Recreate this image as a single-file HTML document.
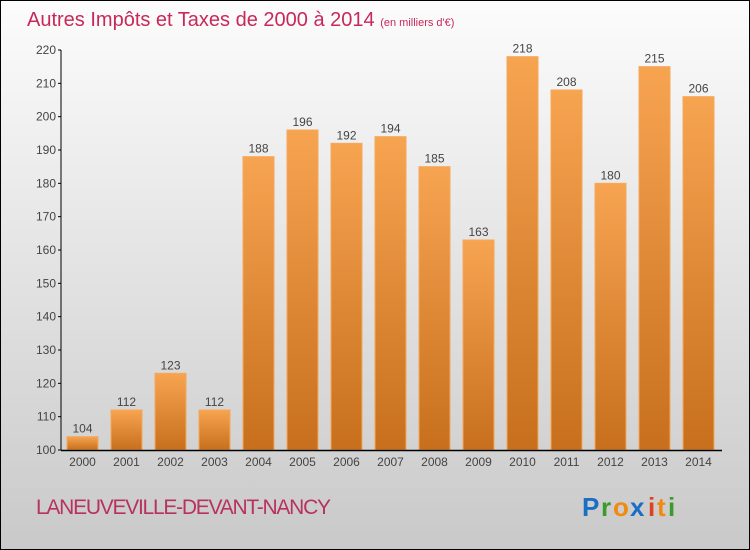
<!DOCTYPE html>
<html><head><meta charset="utf-8"><style>
body{margin:0;width:750px;height:550px;overflow:hidden}
svg{display:block}
text{font-family:"Liberation Sans",sans-serif}
</style></head><body>
<svg width="750" height="550">
<defs>
<linearGradient id="bg" x1="0" y1="0" x2="0" y2="1"><stop offset="0" stop-color="#fcfcfc"/><stop offset="1" stop-color="#c9c9c9"/></linearGradient>
<linearGradient id="bar" x1="0" y1="0" x2="0" y2="1"><stop offset="0" stop-color="#f7a451"/><stop offset="1" stop-color="#c76f1d"/></linearGradient>
</defs>
<rect x="0.5" y="0.5" width="749" height="549" fill="url(#bg)" stroke="#000"/>
<text x="27" y="26" font-size="20" fill="#c8285a">Autres Impôts et Taxes de 2000 à 2014 <tspan font-size="11">(en milliers d'€)</tspan></text>
<g id="yaxis"></g><g id="bars"></g><g id="xaxis"></g>
<text x="36" y="514" font-size="21" fill="#b8325e" textLength="295">LANEUVEVILLE-DEVANT-NANCY</text>
<g font-size="26" font-weight="bold">
<text x="582" y="516" fill="#1a6fc4">P</text><text x="601" y="516" fill="#3a9a2a">r</text><text x="613" y="516" fill="#f08a10">o</text><text x="630" y="516" fill="#1a6fc4">x</text><text x="648" y="516" fill="#e04020">i</text><text x="657" y="516" fill="#f08a10">t</text><text x="668" y="516" fill="#3a9a2a">i</text>
</g>
</svg>
<script>
const categories=["2000","2001","2002","2003","2004","2005","2006","2007","2008","2009","2010","2011","2012","2013","2014"];
const values=[104,112,123,112,188,196,192,194,185,163,218,208,180,215,206];
const yTicks=[100,110,120,130,140,150,160,170,180,190,200,210,220];
const NS="http://www.w3.org/2000/svg";
const x0=60.5,pitch=44,bw=31,yMin=100,yMax=220,yTop=50,yBot=450;
const y=v=>yBot-(v-yMin)/(yMax-yMin)*(yBot-yTop);
const xc=i=>x0+pitch*i+pitch/2;
function mk(t,a,p){const e=document.createElementNS(NS,t);for(const k in a)e.setAttribute(k,a[k]);p.appendChild(e);return e;}
const ya=document.getElementById('yaxis'),bg=document.getElementById('bars'),xa=document.getElementById('xaxis');
const axl=mk('line',{x1:61,y1:yTop,x2:61,y2:yBot,stroke:'#000','stroke-width':1},ya);


yTicks.forEach(v=>{
 const t=mk('line',{x1:58,x2:61,y1:y(v),y2:y(v),stroke:'#000'},ya);
 
 
 const l=mk('text',{x:56,y:y(v)+4,'text-anchor':'end','font-size':12,fill:'#444'},ya);
 l.textContent=v;
 
 
});
values.forEach((v,i)=>{
 const r=mk('rect',{x:xc(i)-bw/2,y:y(v),width:bw,height:yBot-y(v),fill:'url(#bar)',stroke:'#f5a85c','stroke-width':1},bg);
 
 
 const l=mk('text',{x:xc(i),y:y(v)-4,'text-anchor':'middle','font-size':12,fill:'#444'},bg);
 l.textContent=v;
 
 
 const c=mk('text',{x:xc(i),y:466,'text-anchor':'middle','font-size':12,fill:'#444'},xa);
 c.textContent=categories[i];
 
 
});
const xl=mk('line',{x1:61,y1:yBot+0.5,x2:722,y2:yBot+0.5,stroke:'#000','stroke-width':1.5},xa);


</script>
</body></html>
